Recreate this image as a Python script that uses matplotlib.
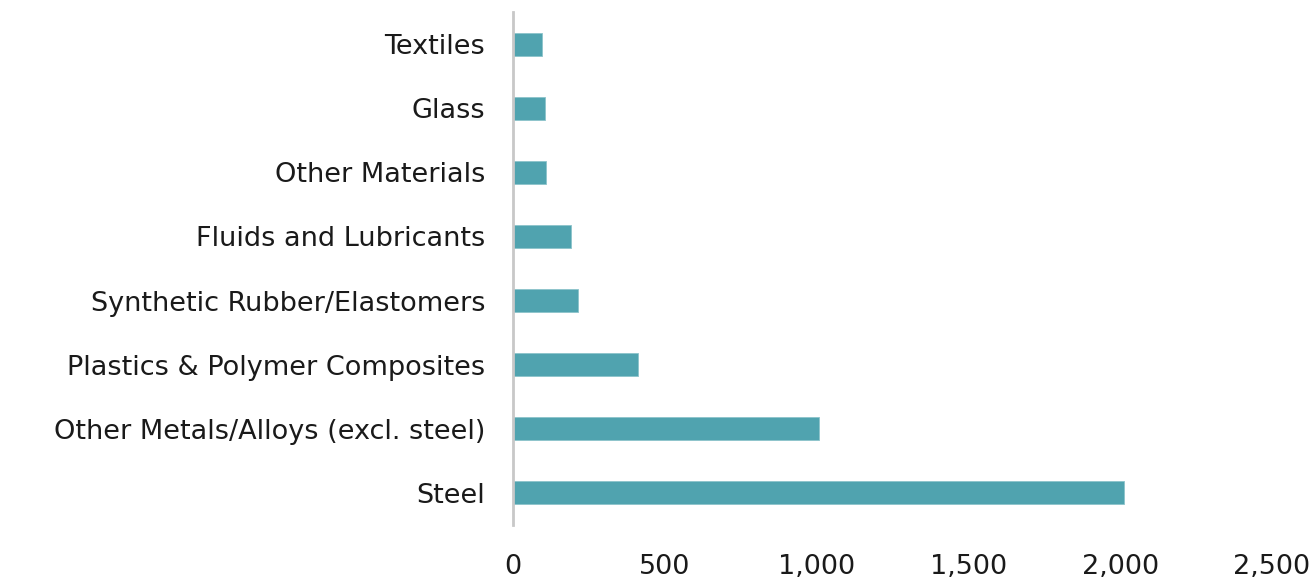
import matplotlib
matplotlib.use("Agg")
import matplotlib.pyplot as plt
from matplotlib.ticker import FuncFormatter

categories = ["Steel", "Other Metals/Alloys (excl. steel)", "Plastics & Polymer Composites",
              "Synthetic Rubber/Elastomers", "Fluids and Lubricants", "Other Materials",
              "Glass", "Textiles"]
values = [2013, 1007, 412, 214, 192, 108, 104, 96]
xticks = [0, 500, 1000, 1500, 2000, 2500]

plt.rcParams['font.family'] = ['DejaVu Sans']
fig = plt.figure(figsize=(13.12, 5.79), dpi=100)
ax = fig.add_axes([513/1312, 54/579, 759/1312, 513/579])

ypos = list(range(len(categories)))
ax.barh(ypos, values, height=0.36, color="#50A3AF", edgecolor="#8CC3CB", linewidth=0.6)
ax.set_yticks(ypos)
ax.set_yticklabels(categories, fontsize=19.5, color="#1a1a1a")
ax.set_ylim(-0.5, len(categories) - 0.5)
ax.set_xlim(0, 2500)
ax.set_xticks(xticks)
ax.xaxis.set_major_formatter(FuncFormatter(lambda v, p: f"{int(v):,}"))
ax.tick_params(axis='x', length=0, pad=21, labelsize=19.5, labelcolor="#1a1a1a")
ax.tick_params(axis='y', length=0, pad=20)
for s in ["top", "right", "bottom"]:
    ax.spines[s].set_visible(False)
ax.spines["left"].set_color("#C8C8C8")
ax.spines["left"].set_linewidth(2)

fig.savefig("out.png", dpi=100)
